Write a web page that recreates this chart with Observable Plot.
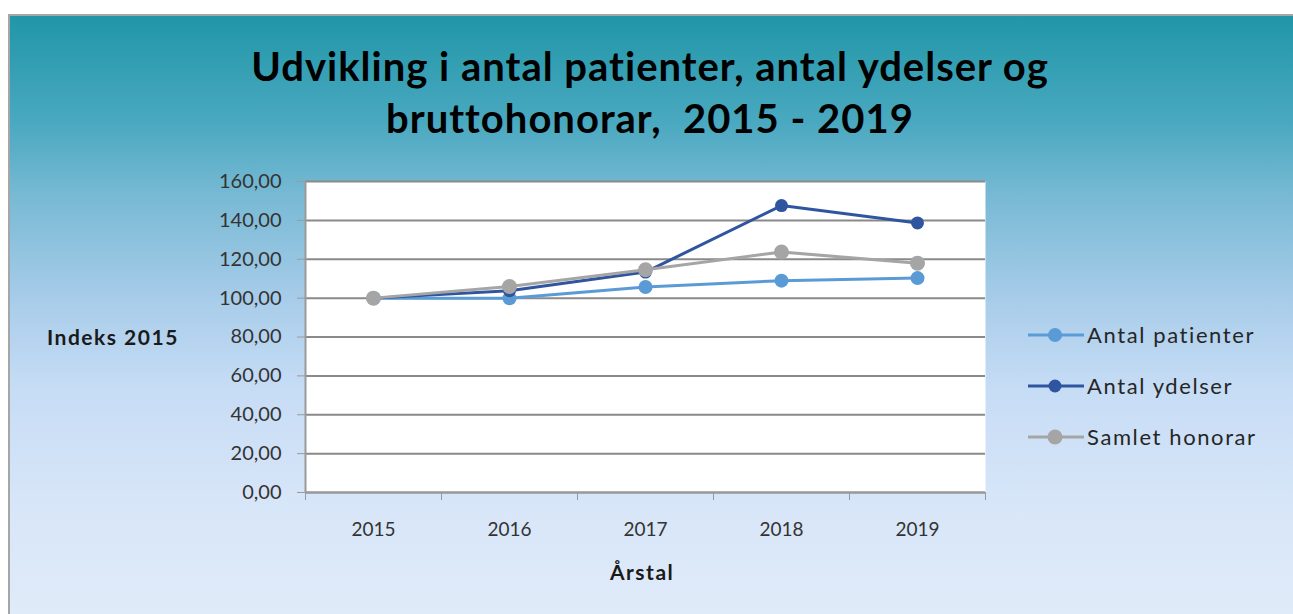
<!DOCTYPE html>
<html>
<head>
<meta charset="utf-8">
<script src="https://cdn.jsdelivr.net/npm/d3@7"></script>
<script src="https://cdn.jsdelivr.net/npm/@observablehq/plot@0.6"></script>
<style>
  html, body { margin: 0; padding: 0; background: #ffffff; }
  body { width: 1293px; height: 614px; position: relative; overflow: hidden; font-family: Lato, "Open Sans", sans-serif; }
  #panel {
    position: absolute; left: 8px; top: 14px; width: 1285px; height: 600px;
    border-left: 2px solid #a6a6a6; border-top: 2px solid #a6a6a6; box-sizing: border-box;
    background: linear-gradient(to bottom, #2196a8 0%, #4aa9c0 18%, #78b9d4 30%, #a9cdea 48%, #c6dcf5 62%, #d6e5f8 80%, #e0ebf9 100%);
  }
  #chart { position: absolute; left: 0; top: 0; }
  .title { position: absolute; left: 0; width: 1300px; text-align: center; font-weight: bold; font-size: 40px; letter-spacing: 1px; color: #000; }
  .lab { position: absolute; font-weight: bold; font-size: 21px; letter-spacing: 1.5px; color: #1a1a1a; }
  #legend { position: absolute; left: 1028px; top: 309px; font-size: 22px; letter-spacing: 1.6px; color: #262626; }
  .item { display: flex; align-items: center; height: 51px; }
  .item svg { margin-right: 3px; }
</style>
</head>
<body>
<div id="panel"></div>
<div id="chart"></div>
<div class="title" style="top:42px">Udvikling i antal patienter, antal ydelser og</div>
<div class="title" style="top:94px">bruttohonorar,&nbsp; 2015 - 2019</div>
<div class="lab" style="left:47px; top:324px">Indeks 2015</div>
<div class="lab" style="left:610px; top:559px">Årstal</div>
<div id="legend"></div>
<script>
const years = [2015, 2016, 2017, 2018, 2019];
const antalPatienter = [100, 99.9, 105.7, 109.0, 110.3];
const antalYdelser = [100, 103.8, 113.4, 147.6, 138.7];
const samletHonorar = [100, 106.0, 114.6, 123.7, 118.0];
const seriesNames = ["Antal patienter", "Antal ydelser", "Samlet honorar"];
const seriesColors = ["#5b9bd5", "#2f55a0", "#a5a5a5"];
const yTicks = [0, 20, 40, 60, 80, 100, 120, 140, 160];

const seriesValues = [antalPatienter, antalYdelser, samletHonorar];
const rows = seriesNames.flatMap((name, i) => years.map((year, j) => ({series: name, year, value: seriesValues[i][j]})));
const bounds = [years[0] - 0.5, ...years.map(y => y + 0.5)];
const dotR = {"Antal patienter": 7, "Antal ydelser": 6.5, "Samlet honorar": 7.5};

const marks = [
  Plot.frame({fill: "white", stroke: null}),
  Plot.gridY({ticks: yTicks, stroke: "#8a8a8a", strokeWidth: 2, strokeOpacity: 1}),
  Plot.ruleX([bounds[0]], {stroke: "#9a9a9a", strokeWidth: 2}),
  Plot.axisY({ticks: yTicks, tickSize: 8, tickPadding: 16, stroke: "#9a9a9a", fill: "#333", fontSize: 20,
    style: {letterSpacing: "1.6px"},
    tickFormat: d => d.toFixed(2).replace(".", ","), label: null}),
  Plot.axisX({ticks: bounds, tickSize: 8, stroke: "#9a9a9a", tickFormat: () => "", label: null}),
  Plot.axisX({ticks: years, tickSize: 0, tickPadding: 30, fill: "#333", fontSize: 19, tickFormat: d => String(d), label: null}),
  Plot.ruleY([0], {stroke: "#9a9a9a", strokeWidth: 2})
];
seriesNames.forEach((name, i) => {
  const data = rows.filter(r => r.series === name);
  marks.push(Plot.line(data, {x: "year", y: "value", stroke: seriesColors[i], strokeWidth: 3}));
  marks.push(Plot.dot(data, {x: "year", y: "value", r: dotR[name], fill: seriesColors[i], stroke: null}));
});

const chart = Plot.plot({
  width: 1293, height: 614,
  marginTop: 181, marginBottom: 122, marginLeft: 305, marginRight: 308,
  style: {background: "transparent", fontFamily: "Lato, sans-serif"},
  x: {type: "linear", domain: [bounds[0], bounds[bounds.length - 1]]},
  y: {domain: [0, 160]},
  marks
});
document.getElementById("chart").appendChild(chart);

const legend = document.getElementById("legend");
seriesNames.forEach((name, i) => {
  const item = document.createElement("div");
  item.className = "item";
  item.innerHTML = `<svg width="56" height="16"><line x1="0" y1="8" x2="56" y2="8" stroke="${seriesColors[i]}" stroke-width="3"/><circle cx="27" cy="8" r="${dotR[name]}" fill="${seriesColors[i]}"/></svg><span>${name}</span>`;
  legend.appendChild(item);
});
</script>
</body>
</html>
